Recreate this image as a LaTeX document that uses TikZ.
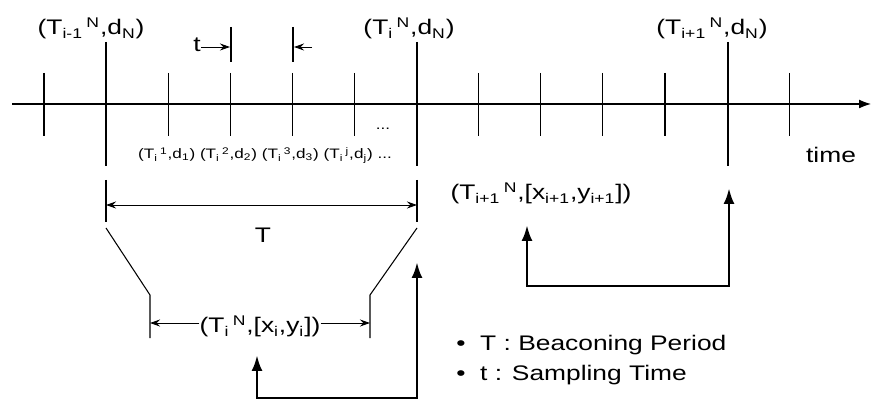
\documentclass[tikz,border=0pt]{standalone}
\usepackage{fontspec}
\setmainfont[FakeStretch=1.25]{Liberation Sans}
\usetikzlibrary{arrows.meta, positioning, calc}

\newcommand{\tn}[2]{T\textsubscript{#1}\,\textsuperscript{#2}}
\newcommand{\lo}[1]{\textsubscript{#1}}

\begin{document}
\begin{tikzpicture}[x=0.02cm, y=-0.02cm,
    font=\fontsize{12}{14}\selectfont,
    lbl/.style={anchor=base, inner sep=0pt},
    small/.style={anchor=base, inner sep=0pt, font=\fontsize{7.8}{9}\selectfont},
    tick/.style={line width=0.6pt},
    dim/.style={-{Stealth[length=2mm, width=1.4mm]}, line width=0.5pt},
    dimboth/.style={{Stealth[length=2mm, width=1.4mm]}-{Stealth[length=2mm, width=1.4mm]}, line width=0.5pt},
    feed/.style={{Latex[length=3.2mm, width=2.2mm]}-{Latex[length=3.2mm, width=2.2mm]}, line width=1.6pt}
]
  \useasboundingbox (0,0) rectangle (874,401);

  % time axis and sampling ticks
  \coordinate (ax0) at (12,104);
  \coordinate (ax1) at (872,104);
  \draw[line width=1.4pt, -{Latex[length=2.6mm, width=1.8mm]}] (ax0) -- (ax1);
  \foreach \k in {0,...,12}
    \draw[tick] (44+62.1*\k,73) -- ++(0,63);
  \node[lbl] (time) at (831,163) {time};

  % beacon instants
  \foreach \x/\n in {106/a, 417/b, 728/c} {
    \coordinate (\n top) at (\x,42);
    \coordinate (\n bot) at (\x,166);
    \draw[tick] (\n top) -- (\n bot);
  }
  \node[lbl] (bA) at (91,35) {(\tn{i-1}{N},d\lo{N})};
  \node[lbl] (bB) at (409,35) {(\tn{i}{N},d\lo{N})};
  \node[lbl] (bC) at (712,35) {(\tn{i+1}{N},d\lo{N})};

  % sampling time t
  \coordinate (s1) at (231,27);
  \coordinate (s2) at (293,27);
  \draw[tick] (s1) -- ++(0,35);
  \draw[tick] (s2) -- ++(0,35);
  \node[lbl] (tlbl) at (197,52) {t};
  \coordinate (tA) at (230,47);
  \coordinate (tB) at (294,47);
  \coordinate (tBs) at (312,47);
  \draw[dim] (tlbl.east |- tA) -- (tA);
  \draw[dim] (tBs) -- (tB);

  \node[small] (samp) at (265,159) {(\tn{i}{1},d\lo{1}) (\tn{i}{2},d\lo{2}) (\tn{i}{3},d\lo{3}) (\tn{i}{j},d\lo{j}) ...};
  \node[small] (dots) at (383,130) {...};

  % beaconing period T
  \draw[tick] (106,180) -- (106,222);
  \draw[tick] (417,180) -- (417,222);
  \coordinate (pa) at (106,205);
  \coordinate (pb) at (417,205);
  \draw[dimboth] (pa) -- (pb);
  \node[lbl] (Tlbl) at (263,243) {T};
  \draw[tick] (106,228) -- (150,295) -- (150,338);
  \draw[tick] (417,228) -- (370,295) -- (370,338);

  % position report of beacon i
  \node[lbl] (pos) at (260,333) {(\tn{i}{N},[x\lo{i},y\lo{i}])};
  \coordinate (pl) at (150,323);
  \coordinate (pr) at (370,323);
  \draw[dim] (pos.west |- pl) -- (pl);
  \draw[dim] (pos.east |- pr) -- (pr);
  \coordinate (fa) at (257,355);
  \coordinate (fb) at (417,262);
  \draw[feed] (fa) |- (fb |- 0,398) -- (fb);

  % position report of beacon i+1
  \node[lbl] (pos2) at (541,200) {(\tn{i+1}{N},[x\lo{i+1},y\lo{i+1}])};
  \coordinate (ga) at (527,225);
  \coordinate (gb) at (729,188);
  \draw[feed] (ga) |- (gb |- 0,286) -- (gb);

  % legend
  \node[lbl, anchor=base west] (leg1) at (456,350) {\textbullet\ \ T : Beaconing Period};
  \node[lbl, anchor=base west] (leg2) at (456,380) {\textbullet\ \ t : Sampling Time};
\end{tikzpicture}
\end{document}
